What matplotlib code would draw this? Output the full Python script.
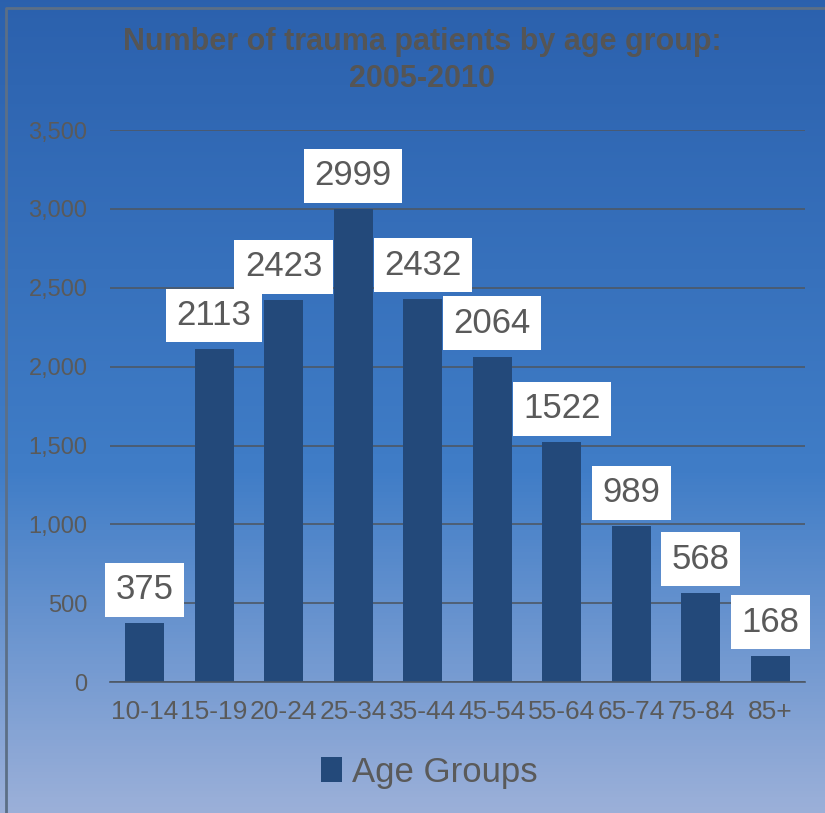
import numpy as np
import matplotlib
matplotlib.use("Agg")
import matplotlib.pyplot as plt
from matplotlib.ticker import FuncFormatter

AGE_GROUPS = ["10-14", "15-19", "20-24", "25-34", "35-44", "45-54",
              "55-64", "65-74", "75-84", "85+"]
PATIENTS = [375, 2113, 2423, 2999, 2432, 2064, 1522, 989, 568, 168]
YTICKS = [0, 500, 1000, 1500, 2000, 2500, 3000, 3500]

FONT = ["Liberation Sans", "DejaVu Sans"]
BAR = "#23497a"
TXT = "#5a5a5a"

fig = plt.figure(figsize=(8.25, 8.13), dpi=100)

# gradient background over the whole figure
bg = fig.add_axes([0, 0, 1, 1], zorder=0)
top = np.array([0.17, 0.38, 0.68])
mid = np.array([0.25, 0.49, 0.78])
bot = np.array([0.61, 0.69, 0.85])
t = np.linspace(0, 1, 256)[:, None]
grad = np.where(t < 0.58, top + (mid - top) * (t / 0.58),
                mid + (bot - mid) * ((t - 0.58) / 0.42))
bg.imshow(grad[:, None, :].repeat(2, axis=1), aspect="auto",
          extent=[0, 1, 0, 1], origin="upper")
bg.plot([0.007, 0.007, 1.0], [0.0, 0.990, 0.990], color="#5c6f86", lw=2,
        transform=bg.transAxes)
bg.set_xlim(0, 1)
bg.set_ylim(0, 1)
bg.set_axis_off()

ax = fig.add_axes([0.133, 0.161, 0.843, 0.679], zorder=1)
ax.patch.set_alpha(0)
x = np.arange(len(AGE_GROUPS))
ax.bar(x, PATIENTS, width=0.56, color=BAR, zorder=2, label="Age Groups")
ax.set_xlim(-0.5, len(AGE_GROUPS) - 0.5)
ax.set_ylim(0, 3500)
ax.set_yticks(YTICKS)
ax.yaxis.set_major_formatter(FuncFormatter(lambda v, p: f"{int(v):,}"))
ax.set_xticks(x)
ax.set_xticklabels(AGE_GROUPS, family=FONT, fontsize=19, color=TXT)
for lab in ax.get_yticklabels():
    lab.set_family(FONT)
    lab.set_fontsize(17)
    lab.set_color(TXT)
ax.tick_params(length=0, pad=13)
ax.tick_params(axis="y", pad=16)
ax.grid(axis="y", color="#4d5866", lw=1.2, zorder=1)
for s in ["top", "right", "left"]:
    ax.spines[s].set_visible(False)
ax.spines["bottom"].set_color("#4d5866")
ax.spines["bottom"].set_linewidth(1.2)

for xi, v in zip(x, PATIENTS):
    ax.annotate(str(v), (xi, v), xytext=(0, 24), textcoords="offset points",
                ha="center", va="center", family=FONT, fontsize=25,
                color=TXT, zorder=4,
                bbox=dict(boxstyle="square,pad=0.3", fc="white", ec="none"))

fig.text(0.512, 0.926, "Number of trauma patients by age group:\n2005-2010",
         ha="center", va="center", family=FONT, fontsize=22,
         fontweight="bold", color="#555555", linespacing=1.3)

leg = ax.legend(loc="center", bbox_to_anchor=(0.46, -0.163),
                frameon=False, prop={"family": FONT, "size": 25},
                handlelength=0.6, handleheight=0.7, handletextpad=0.3)
for txt in leg.get_texts():
    txt.set_color(TXT)

fig.savefig("out.png", dpi=100)
